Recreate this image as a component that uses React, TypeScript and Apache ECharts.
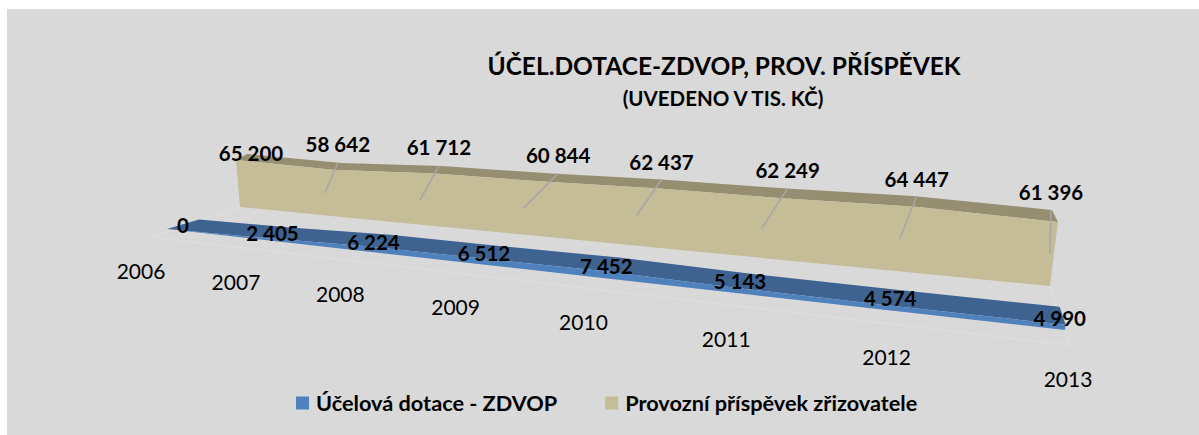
import React, { useEffect, useRef } from "react";
import * as echarts from "echarts";

const years = ["2006", "2007", "2008", "2009", "2010", "2011", "2012", "2013"];
const dotace = [0, 2405, 6224, 6512, 7452, 5143, 4574, 4990];
const prispevek = [65200, 58642, 61712, 60844, 62437, 62249, 64447, 61396];
const dotaceName = "Účelová dotace - ZDVOP";
const prispevekName = "Provozní příspěvek zřizovatele";
const titleText = "ÚČEL.DOTACE-ZDVOP, PROV. PŘÍSPĚVEK";
const subtitleText = "(UVEDENO V TIS. KČ)";

// Layout of the tilted 3D view, applied to the pixel output of the axes' scales
const GRID = { left: 7, top: 9, width: 1192, height: 426 };
const AXIS_MAX = 70000;
const HEIGHT_LEFT = [-4.3, -50.5];
const HEIGHT_RIGHT = [9.1, -73];
const HEIGHT_PERSPECTIVE = 0.6;
const TAN_BAND = { r: 1.27, a: [240, 207], b: [1050, 286], dl: [11, -6], dr: [-6, -12] };
const BLUE_BAND = { r: 1.4, a: [167, 229], b: [1065, 330], dl: [32, -9.5], dr: [-6, -18] };
const YEAR_BAND = { r: 1.46, a: [141, 270], b: [1068, 378], dl: [0, 0], dr: [0, 0] };
const FLOOR_BAND = { r: 1.4, a: [150, 237], b: [1070, 345], dl: [0, 0], dr: [0, 0] };
const LEADER_DROP = [[0, 0], [-13, 30], [-19, 34], [-35, 35], [-25, 36], [-26, 40], [-17, 43], [-1, 44]];
const TAN_LABEL_SHIFT = [[4, -1], [-4, -19], [-3, -19], [10, -18], [0, -18], [5, -18], [4, -17], [-1, -18]];
const BLUE_LABEL_SHIFT = [[0, 1], [-4, 0], [-5, 2], [-6, 1], [-6, 2], [-7, 0], [-6, 0], [-3, 2]];

const FONT = "Lato";
const NUM_SIZE = 20.5;

const persp = (u: number, r: number) => u / (u + (1 - u) * r);
const lerp = (a: number, b: number, t: number) => a + (b - a) * t;

function project(band: any, pt: number[], depth: number) {
  const u = (pt[0] - GRID.left) / GRID.width;
  const frac = (GRID.top + GRID.height - pt[1]) / GRID.height;
  const s = persp(u, band.r);
  const sh = persp(u, HEIGHT_PERSPECTIVE);
  return [0, 1].map(
    (k) =>
      lerp(band.a[k], band.b[k], s) +
      frac * lerp(HEIGHT_LEFT[k], HEIGHT_RIGHT[k], sh) +
      depth * lerp(band.dl[k], band.dr[k], s)
  );
}

const fmt = (v: number) => String(v).replace(/\B(?=(\d{3})+$)/g, " ");

function faces(api: any, band: any, values: number[], topColor: string, frontColor: string) {
  const xs = values.map((_, i) => i);
  const base = xs.map((i) => project(band, api.coord([i, 0]), 0));
  const front = xs.map((i) => project(band, api.coord([i, values[i]]), 0));
  const back = xs.map((i) => project(band, api.coord([i, values[i]]), 1));
  return [
    { type: "polygon", shape: { points: [...back, ...[...front].reverse()] }, style: { fill: topColor } },
    { type: "polygon", shape: { points: [...front, ...[...base].reverse()] }, style: { fill: frontColor } },
  ];
}

function numberText(x: number, y: number, text: string) {
  return {
    type: "text",
    style: {
      x,
      y,
      text,
      fill: "#000",
      fontFamily: FONT,
      fontWeight: "bold",
      fontSize: NUM_SIZE,
      align: "center",
      verticalAlign: "middle",
    },
  };
}

export default function App() {
  const ref = useRef<HTMLDivElement>(null);
  useEffect(() => {
    const chart = echarts.init(ref.current!, null, { renderer: "svg" });
    const renderTan = (params: any, api: any) => {
      const i = params.dataIndex;
      const children: any[] = i === 0 ? faces(api, TAN_BAND, prispevek, "#968e70", "#c4bd97") : [];
      const vertex = project(TAN_BAND, api.coord([i, api.value(1)]), 1);
      const drop = LEADER_DROP[i];
      const shift = TAN_LABEL_SHIFT[i];
      if (drop[1] !== 0) {
        const x1 = vertex[0] + shift[0];
        children.push({
          type: "line",
          shape: { x1, y1: vertex[1], x2: x1 + drop[0], y2: vertex[1] + drop[1] },
          style: { stroke: "#a6a6a6", lineWidth: 1.5 },
        });
      }
      children.push(numberText(vertex[0] + shift[0], vertex[1] + shift[1], fmt(api.value(1))));
      return { type: "group", children };
    };
    const renderBlue = (params: any, api: any) => {
      const i = params.dataIndex;
      const children: any[] = i === 0 ? faces(api, BLUE_BAND, dotace, "#3f6390", "#4f81bd") : [];
      const mid = project(BLUE_BAND, api.coord([i, api.value(1)]), 0.5);
      const shift = BLUE_LABEL_SHIFT[i];
      children.push(numberText(mid[0] + shift[0], mid[1] + shift[1], fmt(api.value(1))));
      return { type: "group", children };
    };
    const renderYear = (params: any, api: any) => {
      const i = params.dataIndex;
      const p = project(YEAR_BAND, api.coord([i, 0]), 0);
      return {
        type: "text",
        style: {
          x: p[0],
          y: p[1],
          text: years[i],
          fill: "#000",
          fontFamily: FONT,
          fontSize: 21,
          align: "center",
          verticalAlign: "middle",
        },
      };
    };
    const renderFloor = (params: any, api: any) => {
      if (params.dataIndex !== 0) return null;
      const left = project(FLOOR_BAND, api.coord([0, 0]), 0);
      const right = project(FLOOR_BAND, api.coord([7, 0]), 0);
      const tanLeft = project(TAN_BAND, api.coord([0, 0]), 0);
      const tanRight = project(TAN_BAND, api.coord([7, 0]), 0);
      return {
        type: "polyline",
        shape: { points: [tanLeft, left, right, tanRight] },
        style: { stroke: "#dddddd", lineWidth: 2, fill: "none" },
      };
    };
    chart.setOption({
      animation: false,
      backgroundColor: "#ffffff",
      grid: {
        show: true,
        backgroundColor: "#d9d9d9",
        borderWidth: 0,
        left: GRID.left,
        top: GRID.top,
        width: GRID.width,
        height: GRID.height,
      },
      xAxis: { type: "value", min: 0, max: 7, show: false },
      yAxis: { type: "value", min: 0, max: AXIS_MAX, show: false },
      title: [
        {
          text: titleText,
          left: 719,
          top: 48,
          textAlign: "center",
          textStyle: { fontFamily: FONT, fontWeight: "bold", fontSize: 24.5, color: "#000" },
        },
        {
          text: subtitleText,
          left: 718,
          top: 82,
          textAlign: "center",
          textStyle: { fontFamily: FONT, fontWeight: "bold", fontSize: 20.5, color: "#000" },
        },
      ],
      legend: {
        data: [dotaceName, prispevekName],
        left: 296,
        top: 392,
        padding: 0,
        itemWidth: 13,
        itemHeight: 13,
        itemGap: 48,
        icon: "rect",
        textStyle: { fontFamily: FONT, fontWeight: "bold", fontSize: 21.7, color: "#000", padding: [0, 0, 0, 2] },
      },
      series: [
        { type: "custom", name: "floor", z: 1, silent: true, renderItem: renderFloor, data: years.map((_, i) => [i, 0]) },
        { type: "custom", name: prispevekName, z: 2, silent: true, renderItem: renderTan, itemStyle: { color: "#c4bd97" }, data: prispevek.map((v, i) => [i, v]) },
        { type: "custom", name: dotaceName, z: 3, silent: true, renderItem: renderBlue, itemStyle: { color: "#4f81bd" }, data: dotace.map((v, i) => [i, v]) },
        { type: "custom", name: "years", z: 4, silent: true, renderItem: renderYear, data: years.map((_, i) => [i, 0]) },
      ],
    });
    return () => chart.dispose();
  }, []);
  return <div ref={ref} style={{ position: "fixed", left: 0, top: 0, width: 1199, height: 435 }} />;
}
